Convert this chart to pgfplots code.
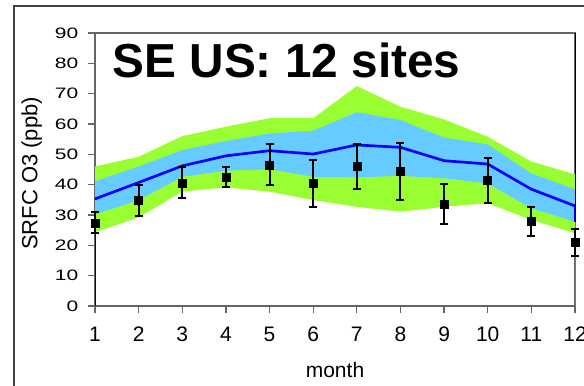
\documentclass[border=0pt]{standalone}
\usepackage{pgfplots}
\pgfplotsset{compat=1.18}
\usepackage{pgfplotstable}
\usepackage{graphicx}
\usepackage{fontspec}
\setmainfont{Liberation Sans}
\usepgfplotslibrary{fillbetween}
\definecolor{lime}{HTML}{99FF33}
\definecolor{sky}{HTML}{66CCFF}

\pgfplotstableread{
m gt bt ln bb gb obs ep em
1 46.0 41.1 35.3 30.2 24.3 27.3 3.6 3.3
2 49.2 46.0 40.7 34.9 29.2 34.9 5.0 5.2
3 56.0 51.4 46.2 42.6 37.7 40.4 5.5 4.9
4 59.1 54.4 49.5 44.6 39.1 42.4 3.3 3.2
5 61.9 56.9 51.2 45.1 37.7 46.5 6.8 6.7
6 61.9 57.8 50.1 42.6 34.9 40.4 7.7 7.9
7 72.5 63.9 53.1 42.4 32.7 46.1 7.4 7.6
8 65.7 61.3 52.3 42.9 31.1 44.5 9.3 9.6
9 61.5 55.5 47.9 42.1 32.7 33.5 6.7 6.6
10 55.8 53.3 46.8 40.4 33.9 41.4 7.5 7.5
11 47.6 43.7 38.5 32.2 28.4 28.0 4.6 4.8
12 43.4 38.5 33.0 27.8 24.0 21.0 4.5 4.4
}\data

\begin{document}
\begin{tikzpicture}
\draw[black!75, line width=1.5pt] (10.3pt,-50pt) rectangle (520pt,284.25pt);
\begin{axis}[
  at={(71.25pt,59.25pt)}, anchor=south west,
  scale only axis, width=360pt, height=204.75pt,
  xmin=1, xmax=12, ymin=0, ymax=90,
  xtick={1,2,...,12}, ytick={0,10,...,90},
  xtick pos=bottom, ytick pos=left, tick align=outside,
  major tick length=5pt,
  axis line style={draw=black!60, line width=1pt},
  tick style={draw=black!60, line width=1pt},
  clip=false,
  /pgf/number format/assume math mode=true,
  xticklabel style={font=\fontsize{15.75}{18}\selectfont, yshift=-7pt},
  yticklabel={\scalebox{1}[0.72]{\pgfmathprintnumber{\tick}}},
  yticklabel style={font=\fontsize{15.75}{18}\selectfont, xshift=-4pt},
]
\addplot[name path=gt, draw=none] table[x=m,y=gt]{\data};
\addplot[name path=gb, draw=none] table[x=m,y=gb]{\data};
\addplot[lime, draw=none] fill between[of=gt and gb];
\addplot[name path=bt, draw=none] table[x=m,y=bt]{\data};
\addplot[name path=bb, draw=none] table[x=m,y=bb]{\data};
\addplot[sky, draw=none] fill between[of=bt and bb];
\addplot[draw=blue!50!black, line width=0.75pt] coordinates {(1,0) (1,30.2)};
\addplot[draw=blue!60, line width=0.75pt] coordinates {(12,0) (12,33)};
\addplot[blue, line width=2pt] table[x=m,y=ln]{\data};
\addplot[blue, line width=2pt] coordinates {(12,33) (12,27.8)};
\draw[black, line width=0.6pt] (axis cs:12,27.8) -- (axis cs:12,90);
\addplot[black, only marks, mark=square*, mark size=3pt,
  error bars/.cd, y dir=both, y explicit,
  error bar style={line width=1.5pt, black},
  error mark options={rotate=90, mark size=3pt, line width=1.5pt, black}]
  table[x=m, y=obs, y error plus=ep, y error minus=em]{\data};
\end{axis}
\node[anchor=base, font=\fontsize{35.8}{40}\selectfont\bfseries] at (214.9pt,230.25pt) {SE US: 12 sites};
\node[rotate=90, font=\fontsize{16.5}{19}\selectfont] at (23.8pt,158.6pt) {SRFC O3 (ppb)};
\node[anchor=base, font=\fontsize{15.75}{18}\selectfont] at (251.25pt,6pt) {month};
\pgfresetboundingbox
\useasboundingbox (0,0) rectangle (438pt,288.75pt);
\end{tikzpicture}
\end{document}
